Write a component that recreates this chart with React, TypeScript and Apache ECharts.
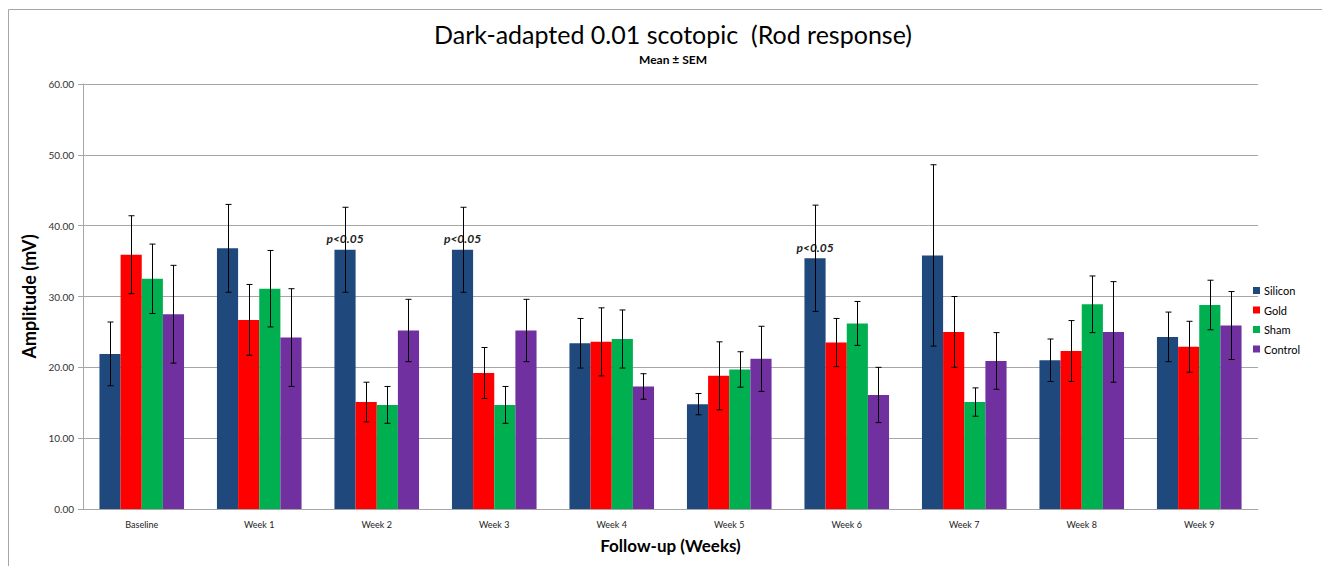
import React, { useEffect, useRef } from "react";
import * as echarts from "echarts";

const categories = ["Baseline", "Week 1", "Week 2", "Week 3", "Week 4", "Week 5", "Week 6", "Week 7", "Week 8", "Week 9"];
const seriesNames = ["Silicon", "Gold", "Sham", "Control"];
const seriesColors = ["#1F497D", "#FF0000", "#00B050", "#7030A0"];

const siliconMean = [21.9, 36.8, 36.6, 36.6, 23.4, 14.8, 35.4, 35.8, 21.0, 24.3];
const siliconSem = [4.5, 6.2, 6.0, 6.0, 3.5, 1.5, 7.5, 12.8, 3.0, 3.5];
const goldMean = [35.9, 26.7, 15.1, 19.2, 23.6, 18.8, 23.5, 25.0, 22.3, 22.9];
const goldSem = [5.5, 5.0, 2.8, 3.6, 4.8, 4.8, 3.4, 5.0, 4.3, 3.6];
const shamMean = [32.5, 31.1, 14.7, 14.7, 24.0, 19.7, 26.2, 15.1, 28.9, 28.8];
const shamSem = [4.9, 5.4, 2.6, 2.6, 4.1, 2.5, 3.1, 2.0, 4.0, 3.5];
const controlMean = [27.5, 24.2, 25.2, 25.2, 17.3, 21.2, 16.1, 20.9, 25.0, 25.9];
const controlSem = [6.9, 6.9, 4.4, 4.4, 1.8, 4.6, 3.9, 4.0, 7.1, 4.8];

const significantCategories = ["Week 2", "Week 3", "Week 6"];
const significanceText = "p<0.05";

const yTicks = { min: 0, max: 60, interval: 10 };

const FONT = "Lato, 'Open Sans', sans-serif";

export default function App() {
  const ref = useRef<HTMLDivElement>(null);

  useEffect(() => {
    if (!ref.current) return;
    const chart = echarts.init(ref.current, null, { renderer: "svg" });
    const means = [siliconMean, goldMean, shamMean, controlMean];
    const sems = [siliconSem, goldSem, shamSem, controlSem];
    const catGap = 0.28;
    const nSeries = means.length;

    const barSeries = means.map((m, si) => ({
      name: seriesNames[si],
      type: "bar",
      barGap: "0%",
      barCategoryGap: catGap * 100 + "%",
      itemStyle: { color: seriesColors[si] },
      data: m.map((v, ci) => {
        if (si === 0 && significantCategories.includes(categories[ci])) {
          return {
            value: v,
            label: {
              show: true,
              position: "top",
              distance: 5,
              formatter: significanceText,
              fontFamily: FONT,
              fontStyle: "italic",
              fontWeight: "bold",
              fontSize: 12,
              color: "#222",
            },
          };
        }
        return v;
      }),
      z: 2,
    }));

    const errSeries = means.map((m, si) => ({
      name: seriesNames[si] + "-err",
      type: "custom",
      z: 5,
      silent: true,
      encode: { x: 0, y: [1] },
      data: m.map((v, ci) => [ci, v, sems[si][ci]]),
      renderItem: (params: any, api: any) => {
        const ci = api.value(0);
        const mean = api.value(1);
        const sem = api.value(2);
        const base = api.coord([ci, mean]);
        const catW = api.size([1, 0])[0];
        const barW = (catW * (1 - catGap)) / nSeries;
        const cx = Math.round(base[0] - (nSeries * barW) / 2 + barW * (si + 0.5)) + 0.5;
        const hi = api.coord([ci, mean + sem])[1];
        const lo = api.coord([ci, mean - sem])[1];
        const cap = 3;
        const st = { stroke: "#000", lineWidth: 1 };
        return {
          type: "group",
          children: [
            { type: "line", shape: { x1: cx, y1: hi, x2: cx, y2: lo }, style: st },
            { type: "line", shape: { x1: cx - cap, y1: hi, x2: cx + cap, y2: hi }, style: st },
            { type: "line", shape: { x1: cx - cap, y1: lo, x2: cx + cap, y2: lo }, style: st },
          ],
        };
      },
    }));

    chart.setOption({
      animation: false,
      backgroundColor: "#fff",
      title: [
        {
          text: "Dark-adapted 0.01 scotopic  (Rod response)",
          left: 660,
          top: 8,
          textAlign: "center",
          textStyle: { fontFamily: FONT, fontSize: 25, fontWeight: "normal", color: "#000" },
        },
        {
          text: "Mean ± SEM",
          left: 660,
          top: 40,
          textAlign: "center",
          textStyle: { fontFamily: FONT, fontSize: 12, fontWeight: "bold", color: "#000" },
        },
      ],
      legend: {
        orient: "vertical",
        left: 1240,
        top: 272,
        itemWidth: 7,
        itemHeight: 7,
        itemGap: 8.5,
        icon: "rect",
        data: seriesNames,
        textStyle: { fontFamily: FONT, fontSize: 11, color: "#000", padding: [0, 0, 0, -1] },
      },
      grid: { left: 75, top: 76, right: 72, bottom: 57, containLabel: false },
      xAxis: {
        type: "category",
        data: categories,
        axisLine: { lineStyle: { color: "#A6A6A6", width: 1 } },
        axisTick: { show: false },
        axisLabel: { fontFamily: FONT, fontSize: 9, color: "#222", margin: 11 },
        name: "Follow-up (Weeks)",
        nameLocation: "middle",
        nameGap: 28,
        nameTextStyle: { fontFamily: FONT, fontSize: 17, fontWeight: "bold", color: "#000" },
      },
      yAxis: {
        type: "value",
        min: yTicks.min,
        max: yTicks.max,
        interval: yTicks.interval,
        axisLine: { show: true, lineStyle: { color: "#A6A6A6", width: 1 } },
        axisTick: { show: true, length: 5, lineStyle: { color: "#A6A6A6" } },
        splitLine: { lineStyle: { color: "#A6A6A6", width: 1 } },
        axisLabel: {
          fontFamily: FONT,
          fontSize: 10,
          color: "#333",
          margin: 9,
          formatter: (v: number) => v.toFixed(2),
        },
        name: "Amplitude (mV)",
        nameLocation: "middle",
        nameGap: 41,
        nameRotate: 90,
        nameTextStyle: { fontFamily: FONT, fontSize: 18, fontWeight: "bold", color: "#000" },
      },
      graphic: [
        { type: "line", shape: { x1: 0.5, y1: 1.5, x2: 1322, y2: 1.5 }, style: { stroke: "#A6A6A6", lineWidth: 1 } },
        { type: "line", shape: { x1: 0.5, y1: 1.5, x2: 0.5, y2: 558 }, style: { stroke: "#A6A6A6", lineWidth: 1 } },
      ],
      series: [...barSeries, ...errSeries],
    });
    return () => chart.dispose();
  }, []);

  return <div ref={ref} style={{ width: 1322, height: 558 }} />;
}
